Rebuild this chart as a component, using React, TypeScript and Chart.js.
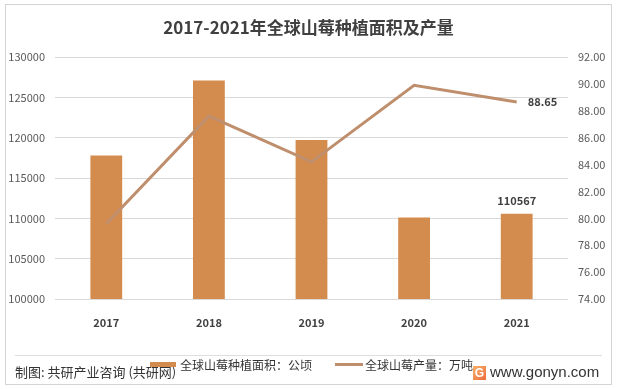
import React, { useEffect, useRef } from "react";
import { Chart, registerables } from "chart.js";

Chart.register(...registerables);

const years = ["2017", "2018", "2019", "2020", "2021"];
const plantingArea = [117800, 127100, 119700, 110100, 110567];
const production = [79.6, 87.6, 84.2, 89.9, 88.65];
const areaAxis = [100000, 130000, 5000];
const productionAxis = [74, 92, 2];
const titleText = "2017-2021年全球山莓种植面积及产量";
const areaLabel = "全球山莓种植面积：公顷";
const productionLabel = "全球山莓产量：万吨";
const sourceText = "制图: 共研产业咨询 (共研网)";
const siteText = "www.gonyn.com";

const BAR_COLOR = "#D38B4E";
const LINE_COLOR = "#BF8F6D";
const FONT = '"Noto Sans CJK SC", "Noto Sans", sans-serif';

const lastLabelPlugin = {
  id: "lastLabels",
  afterDatasetsDraw(chart: any) {
    const ctx = chart.ctx;
    ctx.save();
    ctx.font = `bold 11px ${FONT}`;
    ctx.fillStyle = "#404040";
    const barMeta = chart.getDatasetMeta(0);
    const lastBar = barMeta.data[barMeta.data.length - 1];
    if (lastBar) {
      ctx.textAlign = "center";
      ctx.textBaseline = "middle";
      ctx.fillText(String(plantingArea[plantingArea.length - 1]), lastBar.x, lastBar.y - 13);
    }
    const lineMeta = chart.getDatasetMeta(1);
    const lastPt = lineMeta.data[lineMeta.data.length - 1];
    if (lastPt) {
      ctx.textAlign = "left";
      ctx.textBaseline = "middle";
      ctx.fillText(production[production.length - 1].toFixed(2), lastPt.x + 11, lastPt.y);
    }
    ctx.restore();
  },
};

export default function App() {
  const ref = useRef<HTMLCanvasElement | null>(null);

  useEffect(() => {
    if (!ref.current) return;
    const chart = new Chart(ref.current, {
      type: "bar",
      data: {
        labels: years,
        datasets: [
          {
            type: "bar",
            label: areaLabel,
            data: plantingArea,
            backgroundColor: BAR_COLOR,
            yAxisID: "y",
            barPercentage: 0.31,
            categoryPercentage: 1,
            order: 2,
          },
          {
            type: "line",
            label: productionLabel,
            data: production,
            borderColor: LINE_COLOR,
            backgroundColor: LINE_COLOR,
            borderWidth: 3,
            pointRadius: 0,
            tension: 0,
            yAxisID: "y1",
            order: 1,
          },
        ] as any,
      },
      options: {
        responsive: false,
        animation: false,
        layout: { padding: { left: 8, right: 0, top: 57, bottom: 60 } },
        plugins: {
          legend: { display: false },
          title: { display: false },
          tooltip: { enabled: false },
        },
        scales: {
          x: {
            grid: { display: false },
            border: { display: false },
            ticks: {
              color: "#404040",
              font: { family: FONT, size: 11, weight: "bold" },
              padding: 9,
            },
            afterFit(scale: any) {
              scale.height = 30;
            },
          },
          y: {
            position: "left",
            min: areaAxis[0],
            max: areaAxis[1],
            ticks: {
              stepSize: areaAxis[2],
              color: "#595959",
              font: { family: FONT, size: 11 },
              padding: 10,
              callback: (v: any) => String(v),
            },
            grid: { color: "#d9d9d9", drawTicks: false, lineWidth: 1 },
            border: { display: false },
            afterFit(scale: any) {
              scale.width = 47;
            },
          },
          y1: {
            position: "right",
            min: productionAxis[0],
            max: productionAxis[1],
            ticks: {
              stepSize: productionAxis[2],
              color: "#595959",
              font: { family: FONT, size: 11 },
              padding: 10,
              callback: (v: any) => Number(v).toFixed(2),
            },
            grid: { display: false, drawTicks: false },
            border: { display: false },
            afterFit(scale: any) {
              scale.width = 49;
            },
          },
        },
      } as any,
      plugins: [lastLabelPlugin],
    });
    return () => chart.destroy();
  }, []);

  return (
    <div
      style={{
        position: "absolute",
        left: 0,
        top: 0,
        width: 617,
        height: 389,
        background: "#fff",
        fontFamily: FONT,
        overflow: "hidden",
      }}
    >
      <div
        style={{
          position: "absolute",
          left: 5,
          top: 4,
          width: 605,
          height: 379,
          border: "1px solid #d4d4d4",
        }}
      />
      <canvas
        ref={ref}
        width={617}
        height={389}
        style={{ position: "absolute", left: 0, top: 0, width: 617, height: 389 }}
      />
      <div
        style={{
          position: "absolute",
          left: 0,
          width: 617,
          top: 15,
          textAlign: "center",
          fontSize: 17,
          fontWeight: "bold",
          color: "#404040",
          lineHeight: "24px",
        }}
      >
        {titleText}
      </div>
      <div
        style={{
          position: "absolute",
          left: 15,
          top: 355,
          width: 587,
          height: 1,
          background: "#dedede",
        }}
      />
      <div
        style={{
          position: "absolute",
          left: 15,
          top: 363,
          fontSize: 13,
          lineHeight: "18px",
          color: "#333",
          whiteSpace: "nowrap",
        }}
      >
        {sourceText}
      </div>
      <div style={{ position: "absolute", left: 150, top: 362, width: 26, height: 5, background: BAR_COLOR }} />
      <div
        style={{
          position: "absolute",
          left: 180,
          top: 356,
          fontSize: 12,
          lineHeight: "18px",
          color: "#333",
          whiteSpace: "nowrap",
        }}
      >
        {areaLabel}
      </div>
      <div style={{ position: "absolute", left: 335, top: 363, width: 28, height: 3, background: LINE_COLOR }} />
      <div
        style={{
          position: "absolute",
          left: 365,
          top: 356,
          fontSize: 12,
          lineHeight: "18px",
          color: "#333",
          whiteSpace: "nowrap",
        }}
      >
        {productionLabel}
      </div>
      <div
        style={{
          position: "absolute",
          left: 473,
          top: 366,
          width: 13,
          height: 14,
          background: "linear-gradient(135deg, #f7b26a, #ef6b3a)",
          color: "#fff",
          fontSize: 12,
          fontWeight: "bold",
          lineHeight: "14px",
          textAlign: "center",
          fontFamily: '"Liberation Sans", sans-serif',
        }}
      >
        G
      </div>
      <div
        style={{
          position: "absolute",
          left: 490,
          top: 363,
          fontSize: 15,
          lineHeight: "18px",
          color: "#333",
          whiteSpace: "nowrap",
          fontFamily: '"Liberation Sans", sans-serif',
        }}
      >
        {siteText}
      </div>
    </div>
  );
}
